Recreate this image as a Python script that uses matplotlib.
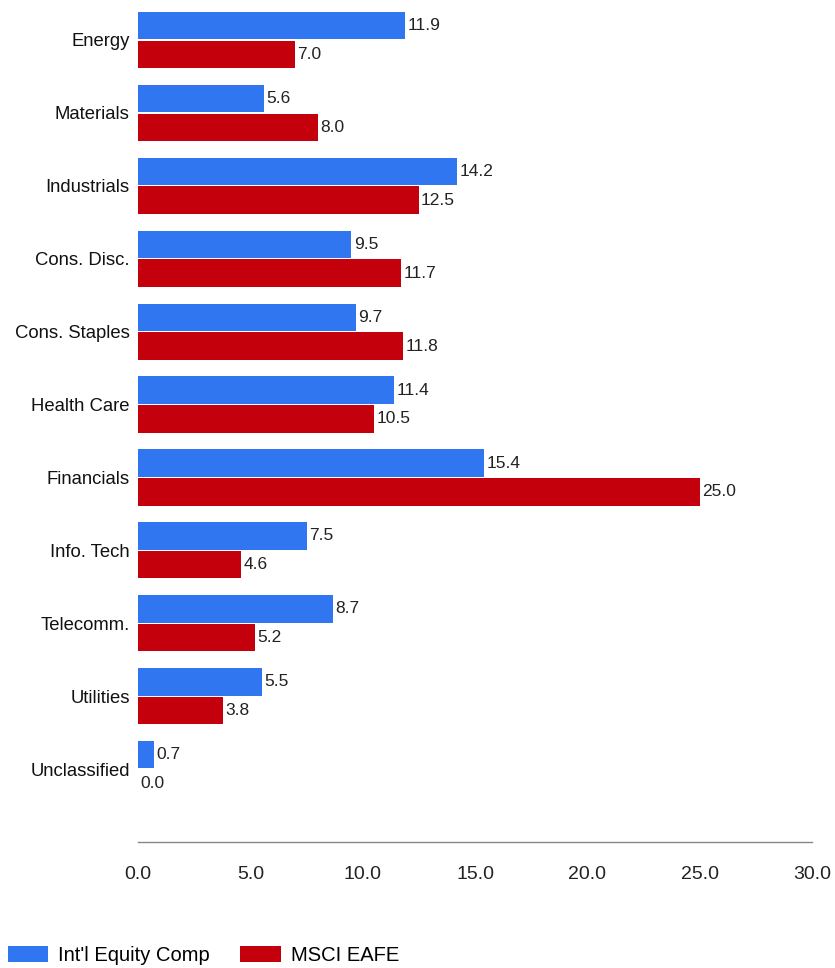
import numpy as np
import matplotlib.pyplot as plt

plt.rcParams['font.family'] = ['Liberation Sans', 'DejaVu Sans']

sectors = ["Energy", "Materials", "Industrials", "Cons. Disc.", "Cons. Staples",
           "Health Care", "Financials", "Info. Tech", "Telecomm.", "Utilities",
           "Unclassified"]
intl_equity = [11.9, 5.6, 14.2, 9.5, 9.7, 11.4, 15.4, 7.5, 8.7, 5.5, 0.7]
msci_eafe = [7.0, 8.0, 12.5, 11.7, 11.8, 10.5, 25.0, 4.6, 5.2, 3.8, 0.0]
xticks = [0, 5, 10, 15, 20, 25, 30]

blue = '#2f76f0'
red = '#c4000c'

fig = plt.figure(figsize=(8.35, 9.68), dpi=100)
ax = fig.add_axes([0.1653, 0.1302, 0.8072, 0.868])

y = np.arange(len(sectors))
h = 0.375
ax.barh(y - 0.195, intl_equity, height=h, color=blue, label="Int'l Equity Comp")
ax.barh(y + 0.2, msci_eafe, height=h, color=red, label='MSCI EAFE')

# value labels next to the bars
for yi, v in zip(y, intl_equity):
    ax.text(v + 0.1, yi - 0.195, f"{v:.1f}", va='center', ha='left', fontsize=12.5, color='#222222')
for yi, v in zip(y, msci_eafe):
    ax.text(v + 0.1, yi + 0.2, f"{v:.1f}", va='center', ha='left', fontsize=12.5, color='#222222')

ax.set_xlim(0, 30)
ax.set_ylim(len(sectors) - 1 + 1.0, -0.52)
ax.set_yticks(y)
ax.set_yticklabels(sectors, fontsize=13.3, color='#111111')
ax.set_xticks(xticks)
ax.set_xticklabels([f"{t:.1f}" for t in xticks], fontsize=14, color='#222222')
ax.tick_params(axis='both', length=0)
ax.tick_params(axis='x', pad=17)
ax.tick_params(axis='y', pad=6)

for s in ['top', 'right', 'left']:
    ax.spines[s].set_visible(False)
ax.spines['bottom'].set_color('#888888')
ax.spines['bottom'].set_linewidth(1.0)

fig.legend(loc='lower left', bbox_to_anchor=(0.006, 0.0), ncol=2, frameon=False,
           fontsize=14.5, handlelength=2.0, handleheight=0.9, columnspacing=1.5,
           handletextpad=0.5, borderaxespad=0.0, borderpad=0.15)

fig.savefig('out.png', dpi=100, facecolor='white')
